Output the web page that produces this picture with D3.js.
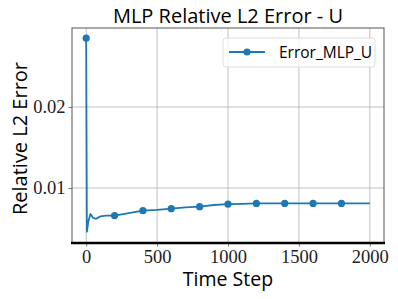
<!DOCTYPE html>
<html>
<head>
<meta charset="utf-8">
<script src="https://cdn.jsdelivr.net/npm/d3@7"></script>
<style>
  body { margin: 0; background: #fff; }
  svg { display: block; }
</style>
</head>
<body>
<svg></svg>
<script>
// time steps and relative L2 error
const steps  = [0, 5, 15, 30, 50, 70, 100, 140, 200, 300, 400, 500, 600, 700, 800, 900, 1000, 1100, 1200, 1300, 1400, 1500, 1600, 1700, 1800, 1900, 2000];
const errors = [0.0285, 0.0046, 0.0058, 0.0068, 0.0063, 0.0062, 0.0065, 0.0066, 0.0066, 0.0069, 0.0072, 0.0073, 0.00745, 0.0076, 0.0077, 0.0079, 0.0080, 0.00805, 0.0081, 0.0081, 0.0081, 0.0081, 0.0081, 0.0081, 0.0081, 0.0081, 0.0081];
const xTicks = [0, 500, 1000, 1500, 2000];
const yTicks = [0.01, 0.02];
const seriesName = "Error_MLP_U";

const data = steps.map((s, i) => ({step: s, value: errors[i]}));

const svg = d3.select("svg")
    .attr("width", 398)
    .attr("height", 299);

const margin = {top: 28, right: 14, bottom: 56, left: 72},
      width = 398 - margin.left - margin.right,
      height = 299 - margin.top - margin.bottom;

const g = svg.append("g")
    .attr("transform", `translate(${margin.left},${margin.top})`);

const x = d3.scaleLinear()
    .domain([-100, 2100])
    .range([0, width]);

const y = d3.scaleLinear()
    .domain([0.00321, 0.02975])
    .range([height, 0]);

// grid
g.append("g")
    .selectAll("line.vgrid")
    .data(xTicks)
    .enter().append("line")
    .attr("x1", d => x(d)).attr("x2", d => x(d))
    .attr("y1", 0).attr("y2", height)
    .attr("stroke", "#b0b0b0")
    .attr("stroke-width", 0.8);

g.append("g")
    .selectAll("line.hgrid")
    .data(yTicks)
    .enter().append("line")
    .attr("x1", 0).attr("x2", width)
    .attr("y1", d => y(d)).attr("y2", d => y(d))
    .attr("stroke", "#b0b0b0")
    .attr("stroke-width", 0.8);

// axes
const xAxis = g.append("g")
    .attr("transform", `translate(0,${height})`)
    .call(d3.axisBottom(x).tickValues(xTicks).tickSize(3.5).tickPadding(3).tickFormat(d3.format("d")));

const yAxis = g.append("g")
    .call(d3.axisLeft(y).tickValues(yTicks).tickSize(3.5).tickPadding(3).tickFormat(d3.format(".2f")));

[xAxis, yAxis].forEach(a => {
    a.select(".domain").remove();
    a.selectAll(".tick line").attr("stroke", "#555").attr("stroke-width", 0.8);
    a.selectAll("text")
        .attr("fill", "#222")
        .style("font-family", "'Liberation Serif', 'DejaVu Serif', serif")
        .style("font-size", "18.5px");
});

// frame
g.append("rect")
    .attr("width", width)
    .attr("height", height)
    .attr("fill", "none")
    .attr("stroke", "#555")
    .attr("stroke-width", 1);

g.append("line")
    .attr("x1", -1).attr("x2", width + 1)
    .attr("y1", height).attr("y2", height)
    .attr("stroke", "#000")
    .attr("stroke-width", 2.5);

// line + markers
const line = d3.line()
    .x(d => x(d.step))
    .y(d => y(d.value));

g.append("path")
    .datum(data)
    .attr("fill", "none")
    .attr("stroke", "#1f77b4")
    .attr("stroke-width", 1.8)
    .attr("stroke-linejoin", "round")
    .attr("d", line);

g.selectAll(".dot")
    .data(data.filter(d => d.step % 200 === 0 && d.step < 2000))
    .enter().append("circle")
    .attr("class", "dot")
    .attr("cx", d => x(d.step))
    .attr("cy", d => y(d.value))
    .attr("r", 3.6)
    .attr("fill", "#1f77b4");

// legend
const legend = g.append("g")
    .attr("transform", `translate(${width - 161},10)`);

legend.append("rect")
    .attr("width", 152)
    .attr("height", 29)
    .attr("rx", 3)
    .attr("fill", "#fff")
    .attr("fill-opacity", 0.8)
    .attr("stroke", "#ddd");

legend.append("line")
    .attr("x1", 6).attr("x2", 42)
    .attr("y1", 14).attr("y2", 14)
    .attr("stroke", "#1f77b4")
    .attr("stroke-width", 1.8);

legend.append("circle")
    .attr("cx", 24).attr("cy", 14)
    .attr("r", 3.6)
    .attr("fill", "#1f77b4");

legend.append("text")
    .attr("x", 56)
    .attr("y", 19.5)
    .style("font-family", "'Open Sans', 'DejaVu Sans', sans-serif")
    .style("font-size", "15.5px")
    .text(seriesName);

// titles
svg.append("text")
    .attr("x", margin.left + width / 2)
    .attr("y", 23)
    .attr("text-anchor", "middle")
    .style("font-family", "'Open Sans', 'DejaVu Sans', sans-serif")
    .style("font-size", "20px")
    .text("MLP Relative L2 Error - U");

svg.append("text")
    .attr("x", margin.left + width / 2)
    .attr("y", 286)
    .attr("text-anchor", "middle")
    .style("font-family", "'Open Sans', 'DejaVu Sans', sans-serif")
    .style("font-size", "19.5px")
    .text("Time Step");

svg.append("text")
    .attr("transform", `translate(27,${margin.top + height / 2 + 3}) rotate(-90)`)
    .attr("text-anchor", "middle")
    .style("font-family", "'Open Sans', 'DejaVu Sans', sans-serif")
    .style("font-size", "20px")
    .text("Relative L2 Error");
</script>
</body>
</html>
